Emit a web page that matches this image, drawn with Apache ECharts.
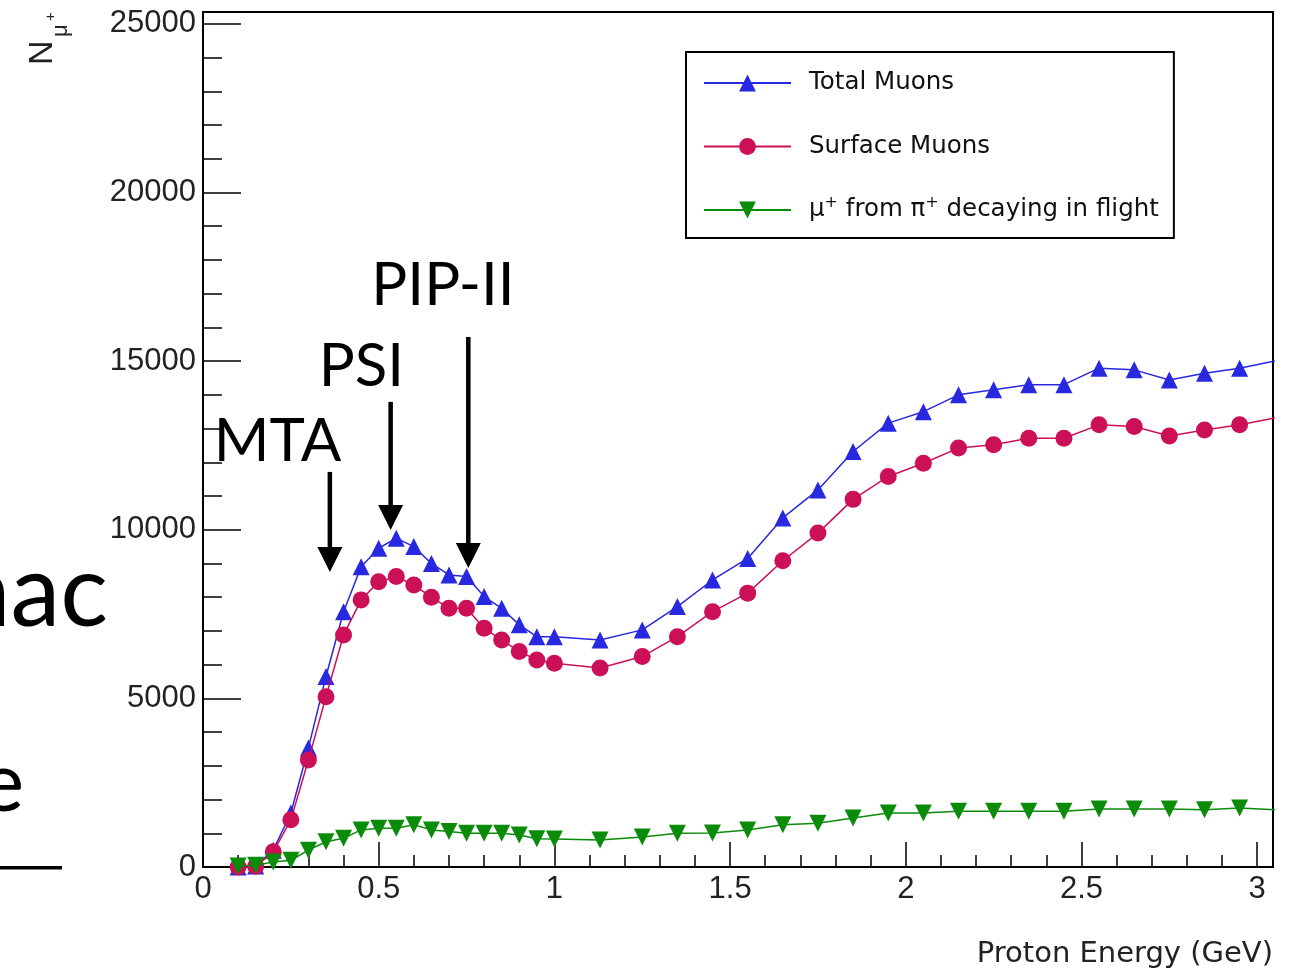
<!DOCTYPE html>
<html><head><meta charset="utf-8">
<script src="https://cdn.jsdelivr.net/npm/echarts@6/dist/echarts.min.js"></script>
<style>html,body{margin:0;padding:0;background:#fff}#c{width:1289px;height:974px}</style>
</head><body><div id="c"></div>
<script>
// ---- data ----
const energies = [0.1,0.15,0.2,0.25,0.3,0.35,0.4,0.45,0.5,0.55,0.6,0.65,0.7,0.75,0.8,0.85,0.9,0.95,1.0,1.13,1.25,1.35,1.45,1.55,1.65,1.75,1.85,1.95,2.05,2.15,2.25,2.35,2.45,2.55,2.65,2.75,2.85,2.95,3.05];
const totalMuons = [0,30,500,1600,3530,5650,7570,8900,9450,9750,9500,9000,8660,8610,8020,7670,7180,6830,6830,6730,7030,7720,8510,9150,10350,11180,12320,13160,13500,14000,14150,14300,14300,14790,14740,14440,14640,14790,15000];
const surfaceMuons = [0,20,450,1400,3170,5050,6880,7920,8460,8610,8360,8000,7670,7670,7080,6730,6390,6140,6040,5900,6240,6830,7570,8120,9080,9900,10900,11580,11970,12420,12520,12710,12710,13110,13060,12780,12960,13110,13310];
const decayMuons = [30,50,150,200,500,750,850,1100,1150,1150,1250,1100,1050,1000,1000,1000,950,840,830,800,890,1000,1010,1100,1250,1300,1450,1600,1600,1650,1650,1650,1650,1720,1720,1720,1700,1750,1700];
const seriesNames = ['Total Muons', 'Surface Muons', 'μ+ from π+ decaying in flight'];
const xMajorTicks = [0, 0.5, 1, 1.5, 2, 2.5, 3];
const xMinorTicks = [0.1,0.2,0.3,0.4,0.6,0.7,0.8,0.9,1.1,1.2,1.3,1.4,1.6,1.7,1.8,1.9,2.1,2.2,2.3,2.4,2.6,2.7,2.8,2.9];
const yMajorTicks = [0, 5000, 10000, 15000, 20000, 25000];
const yMinorTicks = [1000,2000,3000,4000,6000,7000,8000,9000,11000,12000,13000,14000,16000,17000,18000,19000,21000,22000,23000,24000];
const xTitle = 'Proton Energy (GeV)';
// annotation arrows: label, energy (GeV), arrow top and tip (N)
const annotations = [
  {label: 'MTA',    energy: 0.361, top: 11714, tip: 8749},
  {label: 'PSI',    energy: 0.534, top: 13790, tip: 9994},
  {label: 'PIP-II', energy: 0.755, top: 15717, tip: 8867}
];
// ---- end data ----

const X_MAX = 3.045, Y_MAX = 25350;
const colors = ['#2828e0', '#cc1058', '#0a8c0a'];
const tickFont = {fontFamily: '"Liberation Sans", Arial, sans-serif', fontSize: 31, color: '#222'};

const chart = echarts.init(document.getElementById('c'), null, {renderer: 'canvas'});

function pairs(ys) { return energies.map((e, i) => [e, ys[i]]); }

const baseX = {type: 'value', min: 0, max: X_MAX, position: 'bottom', gridIndex: 0, splitLine: {show: false}};
const baseY = {type: 'value', min: 0, max: Y_MAX, position: 'left', gridIndex: 0, splitLine: {show: false}};

const option = {
  animation: false,
  backgroundColor: '#fff',
  grid: {left: 203, right: 16, top: 12, bottom: 107, show: true, borderColor: '#000', borderWidth: 2, backgroundColor: 'transparent'},
  xAxis: [
    Object.assign({}, baseX, {
      axisLine: {show: true, lineStyle: {color: '#000', width: 2}},
      axisTick: {show: true, inside: true, length: 25, customValues: xMajorTicks, lineStyle: {color: '#000', width: 1.5}},
      axisLabel: {show: true, customValues: xMajorTicks, margin: 7, ...tickFont, formatter: v => String(v)},
      minorTick: {show: false}
    }),
    Object.assign({}, baseX, {
      axisLine: {show: false},
      axisTick: {show: true, inside: true, length: 12, customValues: xMinorTicks, lineStyle: {color: '#000', width: 1.5}},
      axisLabel: {show: false}
    })
  ],
  yAxis: [
    Object.assign({}, baseY, {
      axisLine: {show: true, lineStyle: {color: '#000', width: 2}},
      axisTick: {show: true, inside: true, length: 38, customValues: yMajorTicks, lineStyle: {color: '#000', width: 1.5}},
      axisLabel: {show: true, customValues: yMajorTicks, margin: 7, ...tickFont, formatter: v => String(v)},
      minorTick: {show: false}
    }),
    Object.assign({}, baseY, {
      axisLine: {show: false},
      axisTick: {show: true, inside: true, length: 19, customValues: yMinorTicks, lineStyle: {color: '#000', width: 1.5}},
      axisLabel: {show: false}
    })
  ],
  legend: {
    show: true, orient: 'vertical', left: 686, top: 52,
    padding: [16, 15, 13, 17], itemGap: 33.5, itemWidth: 87, itemHeight: 21,
    borderColor: '#000', borderWidth: 2, backgroundColor: '#fff',
    data: seriesNames,
    formatter: name => name === seriesNames[2] ? 'μ{sup|+} from π{sup|+} decaying in flight' : name,
    textStyle: {
      fontFamily: '"DejaVu Sans", sans-serif', fontSize: 24.5, color: '#111', lineHeight: 30,
      padding: [0, 0, 0, 13], width: 343,
      rich: {sup: {fontFamily: '"DejaVu Sans", sans-serif', fontSize: 16, color: '#111', verticalAlign: 'top', lineHeight: 18}}
    }
  },
  series: [
    {name: seriesNames[0], type: 'line', data: pairs(totalMuons), symbol: 'triangle', symbolSize: 17,
     color: colors[0], lineStyle: {width: 1.5, color: colors[0]}, itemStyle: {color: colors[0]}, clip: true, z: 2},
    {name: seriesNames[1], type: 'line', data: pairs(surfaceMuons), symbol: 'circle', symbolSize: 17,
     color: colors[1], lineStyle: {width: 1.5, color: colors[1]}, itemStyle: {color: colors[1]}, clip: true, z: 3},
    {name: seriesNames[2], type: 'line', data: pairs(decayMuons), symbol: 'triangle', symbolRotate: 180, symbolSize: 17,
     color: colors[2], lineStyle: {width: 1.5, color: colors[2]}, itemStyle: {color: colors[2]}, clip: true, z: 4}
  ]
};
chart.setOption(option);

// ---- annotations and decorative text ----
const bigFont = '60px Lato, "Open Sans", sans-serif';
const graphics = [];
// arrows placed through the chart's own scales
const labelOffsets = {MTA: [-116, -30], PSI: [-72, -35], 'PIP-II': [-97, -51]};
annotations.forEach(a => {
  const pTop = chart.convertToPixel({gridIndex: 0}, [a.energy, a.top]);
  const pTip = chart.convertToPixel({gridIndex: 0}, [a.energy, a.tip]);
  const hh = 25, hw = 12.5;
  graphics.push({type: 'line', shape: {x1: pTop[0], y1: pTop[1], x2: pTip[0], y2: pTip[1] - hh + 2}, style: {stroke: '#000', lineWidth: 4.5}, z: 100});
  graphics.push({type: 'polygon', shape: {points: [[pTip[0] - hw, pTip[1] - hh], [pTip[0] + hw, pTip[1] - hh], [pTip[0], pTip[1]]]}, style: {fill: '#000'}, z: 100});
  const off = labelOffsets[a.label];
  graphics.push({type: 'text', x: pTop[0] + off[0], y: pTop[1] + off[1], z: 100,
    style: {text: a.label, font: bigFont, fill: '#000', textAlign: 'left', textVerticalAlign: 'middle', align: 'left', verticalAlign: 'middle'}});
});
// cropped slide text on the left
graphics.push({type: 'text', x: 108, y: 594, z: 50, style: {text: 'nac', font: '100px Lato, sans-serif', fill: '#000', textAlign: 'right', align: 'right', textVerticalAlign: 'middle', verticalAlign: 'middle'}});
graphics.push({type: 'text', x: 24, y: 784, z: 50, style: {text: 'e', font: '84px Lato, sans-serif', fill: '#000', textAlign: 'right', align: 'right', textVerticalAlign: 'middle', verticalAlign: 'middle'}});
graphics.push({type: 'rect', shape: {x: 0, y: 866, width: 62, height: 3.5}, style: {fill: '#000'}, z: 50});
// y axis title N_mu+ (rotated)
graphics.push({type: 'group', x: 55, y: 65, rotation: Math.PI / 2, z: 60, children: [
  {type: 'text', x: 0, y: -12, style: {text: 'N', font: '34px "Liberation Sans", Arial, sans-serif', fill: '#222', textAlign: 'left', align: 'left', textVerticalAlign: 'middle', verticalAlign: 'middle'}},
  {type: 'text', x: 28, y: 6, style: {text: 'μ', font: '22px "Liberation Sans", Arial, sans-serif', fill: '#222', textAlign: 'left', align: 'left', textVerticalAlign: 'middle', verticalAlign: 'middle'}},
  {type: 'text', x: 44, y: -4, style: {text: '+', font: '15px "Liberation Sans", Arial, sans-serif', fill: '#222', textAlign: 'left', align: 'left', textVerticalAlign: 'middle', verticalAlign: 'middle'}}
]});
// x axis title
graphics.push({type: 'text', right: 16, top: 940, z: 60, style: {text: xTitle, font: '29px "DejaVu Sans", sans-serif', fill: '#222'}});

chart.setOption({graphic: graphics});
</script>
</body></html>
